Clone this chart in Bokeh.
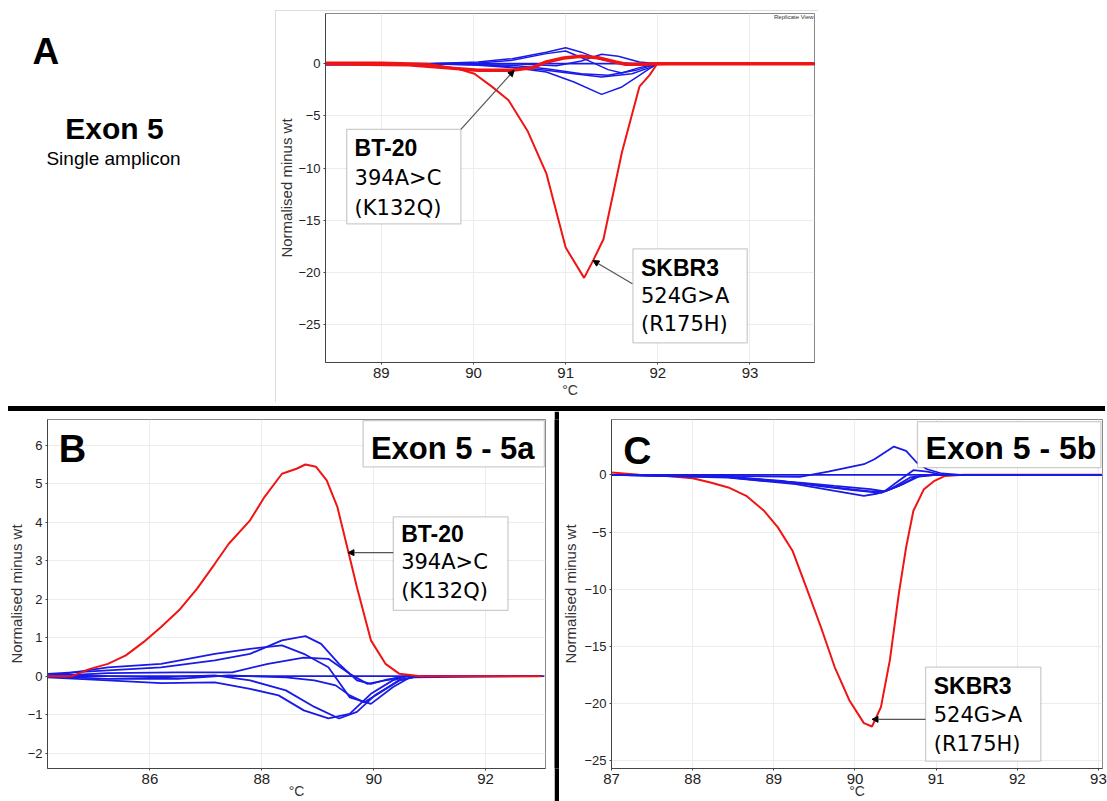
from bokeh.plotting import figure
from bokeh.models import (Range1d, Label, BoxAnnotation, Arrow, NormalHead,
                          FixedTicker, Spacer)
from bokeh.layouts import row, column
from bokeh.embed import file_html
from bokeh.resources import INLINE

# ---------------- data ----------------
# Panel A (Exon 5, single amplicon)
a_skbr3_x = [88.40, 89.00, 89.50, 89.83, 90.01, 90.20, 90.38, 90.59, 90.79, 91.00, 91.20,
             91.30, 91.41, 91.61, 91.80, 91.91, 91.99, 92.30, 93.00, 93.70]
a_skbr3_y = [0.1, 0.1, 0.0, -0.48, -0.96, -2.2, -3.5, -6.5, -10.5, -17.6, -20.5,
             -18.8, -16.8, -8.5, -2.2, -1.1, -0.06, 0.0, 0.05, 0.0]
a_bt20_x = [88.40, 89.30, 89.68, 90.05, 90.42, 90.64, 90.79, 90.98, 91.17, 91.35, 91.54,
            91.65, 91.84, 92.00, 93.70]
a_bt20_y = [0.0, -0.1, -0.38, -0.64, -0.64, -0.38, 0.16, 0.54, 0.70, 0.57, 0.16,
            -0.06, -0.06, 0.0, 0.0]
a_base_x = [88.40, 88.90, 89.20, 93.70]
a_base_y = [-0.12, -0.10, 0.0, 0.0]
a_blue1_x = [88.4, 89.5, 90.05, 90.42, 90.79, 91.0, 91.17, 91.35, 91.54, 91.72, 92.0, 93.7]
a_blue1_y = [0, 0, 0.16, 0.48, 1.1, 1.53, 1.1, 0.48, 0.16, 0, 0, 0]
a_blue2_x = [88.4, 89.5, 90.05, 90.42, 90.79, 91.0, 91.24, 91.46, 91.61, 91.8, 92.0, 93.7]
a_blue2_y = [0, 0, 0.06, 0.32, 0.96, 1.21, 0.32, -0.57, -0.9, -0.38, 0, 0]
a_blue3_x = [88.4, 89.5, 90.42, 90.9, 91.17, 91.39, 91.57, 91.8, 92.0, 93.7]
a_blue3_y = [0, 0, 0.0, -0.2, 0.26, 0.9, 0.7, 0.16, 0, 0]
a_blue4_x = [88.4, 89.5, 90.05, 90.42, 90.79, 91.09, 91.39, 91.61, 91.8, 91.91, 92.0, 93.7]
a_blue4_y = [0, 0, -0.16, -0.38, -0.8, -1.76, -2.94, -2.23, -1.12, -0.48, 0, 0]
a_blue5_x = [88.4, 89.5, 90.05, 90.42, 90.79, 91.09, 91.39, 91.72, 91.91, 92.0, 93.7]
a_blue5_y = [0, 0, -0.06, -0.32, -0.64, -0.96, -1.28, -0.96, -0.38, 0, 0]
a_blue6_x = [88.4, 89.5, 90.42, 90.79, 91.17, 91.46, 91.76, 92.0, 93.7]
a_blue6_y = [0, 0, -0.15, -0.48, -0.96, -1.12, -0.64, 0, 0]

# Panel B (Exon 5 - 5a)
b_bt20_x = [84.17, 84.61, 84.93, 85.25, 85.57, 85.89, 86.20, 86.52, 86.84, 87.16, 87.41,
            87.79, 88.05, 88.36, 88.62, 88.78, 88.97, 89.16, 89.35, 89.54, 89.70, 89.95,
            90.21, 90.46, 90.84, 93.00]
b_bt20_y = [0.0, 0.0, 0.19, 0.32, 0.54, 0.89, 1.28, 1.71, 2.27, 2.92, 3.44,
            4.05, 4.66, 5.26, 5.39, 5.50, 5.44, 5.09, 4.40, 3.27, 2.31, 0.93,
            0.32, 0.06, 0.0, 0.0]
b_base_x = [84.17, 93.05]
b_base_y = [0.0, 0.0]
b_blue1_x = [84.17, 85.25, 86.2, 87.16, 87.79, 88.36, 88.78, 89.06, 89.38, 89.7, 89.95, 90.21, 90.59, 93.0]
b_blue1_y = [0.06, 0.15, 0.23, 0.41, 0.58, 0.93, 1.04, 0.84, 0.32, -0.11, -0.2, -0.1, 0, 0]
b_blue2_x = [84.17, 85.25, 86.2, 87.16, 87.79, 88.36, 88.75, 89.19, 89.57, 89.95, 90.34, 90.65, 93.0]
b_blue2_y = [0, 0.23, 0.32, 0.58, 0.71, 0.8, 0.58, 0.23, -0.55, -0.72, -0.29, -0.03, 0]
b_blue3_x = [84.17, 85.25, 86.5, 87.47, 88.11, 88.75, 89.19, 89.57, 89.89, 90.34, 90.6, 93.0]
b_blue3_y = [0, 0.08, 0.1, 0.1, 0.32, 0.48, 0.45, 0.06, -0.2, -0.07, 0, 0]
b_blue4_x = [84.17, 85.25, 86.2, 87.16, 87.79, 88.3, 88.75, 89.19, 89.57, 89.95, 90.34, 90.6, 93.0]
b_blue4_y = [-0.03, -0.11, -0.18, -0.16, -0.33, -0.5, -0.89, -1.1, -0.98, -0.46, -0.11, 0, 0]
b_blue5_x = [84.17, 85.25, 86.2, 87.16, 87.79, 88.43, 88.94, 89.38, 89.7, 90.02, 90.46, 90.8, 93.0]
b_blue5_y = [0.06, 0.0, -0.03, 0.02, -0.11, -0.37, -0.8, -1.1, -0.93, -0.5, -0.11, 0, 0]
b_blue6_x = [84.17, 85.25, 86.5, 87.41, 88.43, 88.94, 89.32, 89.57, 89.83, 90.08, 90.46, 90.8, 93.0]
b_blue6_y = [0.0, -0.07, -0.07, 0.02, -0.03, -0.11, -0.24, -0.5, -0.68, -0.46, -0.1, 0, 0]

# Panel C (Exon 5 - 5b)
c_skbr3_x = [87.0, 87.34, 87.69, 88.0, 88.22, 88.44, 88.66, 88.88, 89.05, 89.23, 89.4,
             89.58, 89.75, 89.93, 90.11, 90.21, 90.32, 90.43, 90.54, 90.63, 90.72,
             90.85, 90.98, 91.11, 91.33, 93.04]
c_skbr3_y = [0.2, 0.0, -0.09, -0.29, -0.67, -1.1, -1.83, -3.14, -4.59, -6.63, -9.83,
             -13.3, -16.8, -19.7, -21.7, -22.0, -20.3, -16.2, -10.4, -6.34, -3.14,
             -1.25, -0.52, -0.09, 0.0, 0.0]
c_base_x = [87.0, 93.04]
c_base_y = [0.0, 0.0]
c_blue1_x = [87.0, 88.44, 89.32, 89.67, 90.11, 90.24, 90.48, 90.63, 90.76, 90.89, 91.07, 91.3, 93.04]
c_blue1_y = [0, -0.09, -0.17, 0.29, 0.93, 1.37, 2.47, 2.09, 1.08, 0.49, 0.12, 0, 0]
c_blue2_x = [87.0, 88.44, 89.27, 89.75, 90.19, 90.37, 90.54, 90.72, 90.89, 91.07, 93.04]
c_blue2_y = [0, -0.17, -0.67, -1.1, -1.45, -1.4, -0.52, 0.41, 0.29, 0, 0]
c_blue3_x = [87.0, 88.44, 89.27, 89.75, 90.11, 90.28, 90.46, 90.68, 90.9, 93.04]
c_blue3_y = [0, -0.23, -0.81, -1.4, -1.83, -1.63, -1.16, -0.23, 0, 0]
c_blue4_x = [87.0, 88.44, 89.1, 89.54, 89.97, 90.32, 90.54, 90.76, 91.0, 93.04]
c_blue4_y = [0, -0.17, -0.52, -0.96, -1.34, -1.57, -0.96, -0.17, 0, 0]
c_blue5_x = [87.0, 88.3, 88.88, 89.32, 89.75, 90.19, 90.37, 90.59, 90.8, 91.0, 93.04]
c_blue5_y = [0, -0.1, -0.52, -0.67, -0.96, -1.25, -1.45, -0.81, -0.09, 0, 0]

a_xticks = [89, 90, 91, 92, 93]
a_yticks = [0, -5, -10, -15, -20, -25]
b_xticks = [86, 88, 90, 92]
b_yticks = [-2, -1, 0, 1, 2, 3, 4, 5, 6]
c_xticks = [87, 88, 89, 90, 91, 92, 93]
c_yticks = [0, -5, -10, -15, -20, -25]

RED = "#f01414"
BLUE = "#1a1ae6"
SANS = "Liberation Sans"
VERD = "DejaVu Sans"


def base_fig(width, height, xr, yr, xticks, yticks, mbl, mbr, mbt, mbb,
             ylab_standoff, xlab_standoff):
    p = figure(width=width, height=height, x_range=Range1d(*xr), y_range=Range1d(*yr),
               output_backend="svg", toolbar_location=None, title=None,
               min_border_left=mbl, min_border_right=mbr,
               min_border_top=mbt, min_border_bottom=mbb,
               background_fill_color="white", border_fill_color="white")
    p.outline_line_color = "#8a8a8a"
    p.outline_line_width = 1
    p.xaxis.ticker = FixedTicker(ticks=xticks)
    p.yaxis.ticker = FixedTicker(ticks=yticks)
    p.xgrid.grid_line_color = "#ececec"
    p.ygrid.grid_line_color = "#ececec"
    for ax in (p.xaxis[0], p.yaxis[0]):
        ax.axis_line_color = "#444444"
        ax.major_tick_line_color = "#444444"
        ax.minor_tick_line_color = None
        ax.major_tick_in = 0
        ax.major_tick_out = 2
        ax.major_label_standoff = 3
        ax.major_label_text_font = SANS
        ax.major_label_text_color = "#222222"
        ax.axis_label_text_font = SANS
        ax.axis_label_text_font_style = "normal"
        ax.axis_label_text_color = "#333333"
    p.xaxis.major_label_text_font_size = "15px"
    p.yaxis.major_label_text_font_size = "13px"
    p.xaxis.axis_label = "°C"
    p.xaxis.axis_label_text_font_size = "14px"
    p.xaxis.axis_label_standoff = xlab_standoff
    p.yaxis.axis_label = "Normalised minus wt"
    p.yaxis.axis_label_text_font_size = "15px"
    p.yaxis.axis_label_standoff = ylab_standoff
    return p


def callout(p, left, right, top, bottom, lines, xtext, ybases, bold_size, size):
    p.add_layout(BoxAnnotation(left=left, right=right, top=top, bottom=bottom,
                               fill_color="white", fill_alpha=1.0,
                               line_color="#5a5a5a", line_width=1.3))
    for i, (t, yb) in enumerate(zip(lines, ybases)):
        if i == 0:
            p.add_layout(Label(x=xtext, y=yb, text=t, text_font=SANS, text_font_style="bold",
                               text_font_size=bold_size, text_color="black",
                               text_baseline="alphabetic"))
        else:
            p.add_layout(Label(x=xtext, y=yb, text=t, text_font=VERD,
                               text_font_size=size, text_color="black",
                               text_baseline="alphabetic"))


def arrow(p, xs, ys, xe, ye):
    p.add_layout(Arrow(end=NormalHead(size=6, line_color="black", fill_color="black"),
                       x_start=xs, y_start=ys, x_end=xe, y_end=ye,
                       line_color="#555555", line_width=1.2))


def bold_label(p, x, y, text, size, align="left"):
    p.add_layout(Label(x=x, y=y, text=text, text_font=SANS, text_font_style="bold",
                       text_font_size=size, text_color="black", text_align=align,
                       text_baseline="alphabetic"))


# ---------------- left title panel ----------------
left = figure(width=275, height=406, x_range=Range1d(0, 275), y_range=Range1d(406, 0),
              output_backend="svg", toolbar_location=None, min_border=0, title=None,
              outline_line_color=None, background_fill_color="white",
              border_fill_color="white")
left.axis.visible = False
left.grid.visible = False
bold_label(left, 32, 51, "A", "37px")
bold_label(left, 114, 128, "Exon 5", "30px", align="center")
left.add_layout(Label(x=113, y=158, text="Single amplicon", text_font=SANS,
                      text_font_size="19px", text_align="center", text_color="black",
                      text_baseline="alphabetic"))

# ---------------- panel A ----------------
pa = base_fig(543, 392, (88.394, 93.70), (-28.6, 4.8), a_xticks, a_yticks,
              48, 4, 3, 40, 0, 1)
pa.styles = {"outline": "1px solid #d2d2d2", "outline-offset": "-1px"}
pa.line(a_base_x, a_base_y, line_color=BLUE, line_width=1.6)
for xs, ys in [(a_blue1_x, a_blue1_y), (a_blue2_x, a_blue2_y), (a_blue3_x, a_blue3_y),
               (a_blue4_x, a_blue4_y), (a_blue5_x, a_blue5_y), (a_blue6_x, a_blue6_y)]:
    pa.line(xs, ys, line_color=BLUE, line_width=1.5)
pa.line(a_skbr3_x, a_skbr3_y, line_color=RED, line_width=2)
pa.line(a_bt20_x, a_bt20_y, line_color=RED, line_width=3.5)
pa.add_layout(Label(x=93.69, y=4.2, text="Replicate View", text_font=SANS,
                    text_font_size="6px", text_align="right", text_color="#333333"))
callout(pa, 88.624, 89.863, -6.29, -15.33, ["BT-20", "394A>C", "(K132Q)"],
        88.71, [-8.09, -10.9, -13.78], "23px", "21px")
arrow(pa, 89.863, -6.29, 90.44, -0.64)
callout(pa, 91.73, 92.97, -17.72, -26.72, ["SKBR3", "524G>A", "(R175H)"],
        91.817, [-19.52, -22.24, -24.95], "23px", "21px")
arrow(pa, 91.724, -21.07, 91.296, -18.84)

top = row(left, column(Spacer(width=543, height=10), pa, Spacer(width=543, height=4)))

# ---------------- separators ----------------
hbar = row(Spacer(width=8, height=5),
           Spacer(width=1097, height=5, styles={"background-color": "black"}))

vbar = figure(width=5, height=390, x_range=Range1d(0, 1), y_range=Range1d(0, 1),
              output_backend="svg", toolbar_location=None, min_border=0, title=None,
              outline_line_color=None, background_fill_color="black",
              border_fill_color="black")
vbar.axis.visible = False
vbar.grid.visible = False

# ---------------- panel B ----------------
pb = base_fig(554, 390, (84.17, 93.07), (-2.4, 6.67), b_xticks, b_yticks,
              47, 9, 8, 33, 0, -4)
pb.line(b_base_x, b_base_y, line_color=BLUE, line_width=1.8)
for xs, ys in [(b_blue1_x, b_blue1_y), (b_blue2_x, b_blue2_y), (b_blue3_x, b_blue3_y),
               (b_blue4_x, b_blue4_y), (b_blue5_x, b_blue5_y), (b_blue6_x, b_blue6_y)]:
    pb.line(xs, ys, line_color=BLUE, line_width=1.8)
pb.line(b_bt20_x, b_bt20_y, line_color=RED, line_width=2)
bold_label(pb, 84.37, 5.9, "B", "38px")
pb.add_layout(BoxAnnotation(left=89.81, right=93.05, top=6.64, bottom=5.44,
                            fill_color="white", fill_alpha=1.0,
                            line_color="#5a5a5a", line_width=1.3))
bold_label(pb, 89.95, 5.92, "Exon 5 - 5a", "31px")
callout(pb, 90.35, 92.40, 4.14, 1.71, ["BT-20", "394A>C", "(K132Q)"],
        90.49, [3.69, 2.96, 2.22], "23px", "21px")
arrow(pb, 90.35, 3.21, 89.54, 3.21)

# ---------------- panel C ----------------
pc = base_fig(548, 390, (87.0, 93.05), (-25.67, 4.84), c_xticks, c_yticks,
              52, 5, 8, 33, 2, -4)
pc.line(c_skbr3_x, c_skbr3_y, line_color=RED, line_width=2)
pc.line(c_base_x, c_base_y, line_color=BLUE, line_width=1.8)
for xs, ys in [(c_blue1_x, c_blue1_y), (c_blue2_x, c_blue2_y), (c_blue3_x, c_blue3_y),
               (c_blue4_x, c_blue4_y), (c_blue5_x, c_blue5_y)]:
    pc.line(xs, ys, line_color=BLUE, line_width=1.8)
bold_label(pc, 87.146, 2.1, "C", "39px")
pc.add_layout(BoxAnnotation(left=90.77, right=93.03, top=4.65, bottom=0.64,
                            fill_color="white", fill_alpha=1.0,
                            line_color="#5a5a5a", line_width=1.3))
bold_label(pc, 90.87, 2.36, "Exon 5 - 5b", "32px")
callout(pc, 90.87, 92.29, -16.8, -25.03, ["SKBR3", "524G>A", "(R175H)"],
        90.97, [-18.43, -20.99, -23.52], "23px", "21px")
arrow(pc, 90.87, -21.37, 90.21, -21.37)

bottom = row(pb, vbar, pc)
layout = column(top, hbar, bottom)

open("out.html", "w").write(file_html(layout, INLINE))
